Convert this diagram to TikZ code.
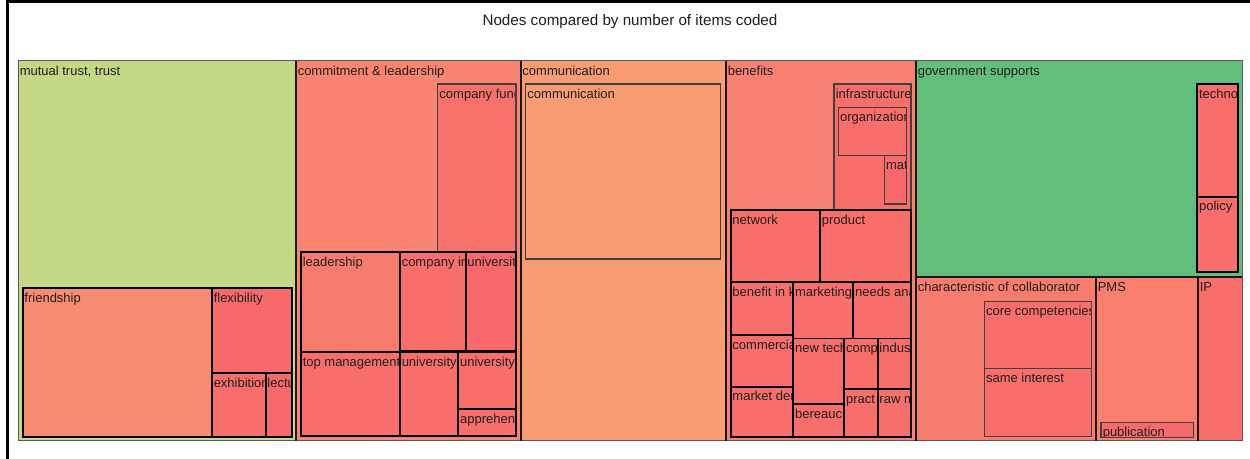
\documentclass[tikz,border=0pt]{standalone}
\usepackage{fontspec}
\setmainfont{Liberation Sans}

% fill colours of the treemap cells
\definecolor{trustgreen}{HTML}{C4D984}
\definecolor{govgreen}{HTML}{63BE7B}
\definecolor{commorange}{HTML}{F99B73}
\definecolor{friendsal}{HTML}{F98B73}
\definecolor{commitsal}{HTML}{F98570}
\definecolor{benefsal}{HTML}{F88070}
\definecolor{leadsal}{HTML}{F87C6E}
\definecolor{charsal}{HTML}{F97D6E}
\definecolor{pmssal}{HTML}{F97E6E}
\definecolor{cellred}{HTML}{F86E6B}
\definecolor{cellredb}{HTML}{F8696B}
\definecolor{cellredc}{HTML}{F8726C}

\tikzset{
  cellbase/.style={inner sep=0pt, outer sep=0pt, draw=none},
  topcell/.style={draw=black!65, line width=0.75pt},
  subcell/.style={draw=black, line width=1.35pt},
  thincell/.style={draw=black!75, line width=0.8pt},
  divider/.style={draw=black!90, line width=1.4pt},
  lbl/.style={font=\fontsize{9.75}{11}\selectfont, text=black!88, inner sep=0pt, anchor=base west},
  titletext/.style={font=\fontsize{11.4}{13}\selectfont, text=black!88, inner sep=0pt},
  frame/.style={line width=2.2pt, draw=black},
}

% first pass: fill and clipped label of a cell
% arguments: style, name, x1, y1, x2, y2 (pixel units, y down), fill, label
\newcommand\tmfillcell[8]{%
  \pgfmathsetmacro\tmw{(#5-#3)*0.75}%
  \pgfmathsetmacro\tmh{(#6-#4)*0.75}%
  \node[cellbase, fill=#7, minimum width=\tmw pt, minimum height=\tmh pt, anchor=north west] (#2) at (#3,#4) {};
  \begin{scope}
    \clip (#2.north west) rectangle (#2.south east);
    \node[lbl] (#2-t) at (#3+1.5,#4+14.3) {#8};
  \end{scope}}
% second pass: outline of the same cell
\newcommand\tmedgecell[8]{%
  \draw[#1] (#2.north west) rectangle (#2.south east);}

\newcommand\treemapcells{%
% mutual trust, trust
\tmcell{topcell}{mt}{18}{61}{296}{441}{trustgreen}{mutual trust, trust}
\tmcell{subcell}{mt1}{22.7}{288}{212}{436.7}{friendsal}{friendship}
\tmcell{subcell}{mt2}{212}{288}{291.7}{373}{cellredb}{flexibility}
\tmcell{subcell}{mt3}{212}{373}{265.7}{436.7}{cellred}{exhibition}
\tmcell{subcell}{mt4}{265.7}{373}{291.7}{436.7}{cellredb}{lectu}
% commitment & leadership
\tmcell{topcell}{cl}{296}{61}{520.7}{441}{commitsal}{commitment \& leadership}
\tmcell{thincell}{cl1}{437.7}{84}{516}{251.7}{cellredc}{company fund}
\tmcell{subcell}{cl2}{301}{252.3}{400}{352.3}{leadsal}{leadership}
\tmcell{subcell}{cl3}{400}{252.3}{465.7}{351}{cellred}{company in}
\tmcell{subcell}{cl4}{465.7}{252.3}{516}{351}{cellredb}{universit}
\tmcell{subcell}{cl5}{301}{352.3}{400}{436}{cellred}{top management}
\tmcell{subcell}{cl6}{400}{352.3}{458.3}{436}{cellred}{university}
\tmcell{subcell}{cl7}{458.3}{352.3}{516}{409.3}{cellred}{university}
\tmcell{subcell}{cl8}{458.3}{409.3}{516}{436}{cellred}{apprehen}
% communication
\tmcell{topcell}{cm}{520.7}{61}{726}{441}{commorange}{communication}
\tmcell{thincell}{cm1}{525.7}{84}{720.7}{259}{commorange}{communication}
% benefits
\tmcell{topcell}{bn}{726}{61}{916}{441}{benefsal}{benefits}
\tmcell{thincell}{bn1}{834}{84}{911}{209.3}{cellred}{infrastructure}
\tmcell{thincell}{bn2}{838.3}{107.3}{906.7}{155.5}{cellred}{organization}
\tmcell{thincell}{bn3}{884.3}{155.5}{906.7}{204}{cellredb}{mat}
\tmcell{subcell}{bn4}{730.7}{210}{820}{282}{cellred}{network}
\tmcell{subcell}{bn5}{820}{210}{910.7}{282}{cellred}{product}
\tmcell{subcell}{bn6}{730.7}{282}{793.3}{335}{cellred}{benefit in k}
\tmcell{subcell}{bn7}{793.3}{282}{853.3}{338.5}{cellred}{marketing}
\tmcell{subcell}{bn8}{853.3}{282}{910.7}{338.5}{cellred}{needs ana}
\tmcell{subcell}{bn9}{730.7}{335}{793.3}{386.7}{cellred}{commercial}
\tmcell{subcell}{bn10}{730.7}{386.7}{793.3}{436.7}{cellred}{market der}
\tmcell{subcell}{bn11}{793.3}{338.5}{844.3}{404.3}{cellred}{new tech}
\tmcell{subcell}{bn12}{793.3}{404.3}{844.3}{436.7}{cellred}{bereauc}
\tmcell{subcell}{bn13}{844.3}{338.5}{877.7}{389}{cellred}{comp}
\tmcell{subcell}{bn14}{877.7}{338.5}{910.7}{389}{cellred}{indus}
\tmcell{subcell}{bn15}{844.3}{389}{877.7}{436.7}{cellred}{pract}
\tmcell{subcell}{bn16}{877.7}{389}{910.7}{436.7}{cellred}{raw m}
% government supports
\tmcell{topcell}{gs}{916}{61}{1242}{277.3}{govgreen}{government supports}
\tmcell{subcell}{gs1}{1197.3}{84}{1238.3}{196.7}{cellred}{techno}
\tmcell{subcell}{gs2}{1197.3}{196.7}{1238.3}{271.7}{cellred}{policy}
% characteristic of collaborator
\tmcell{topcell}{cc}{916}{277.3}{1096}{441}{charsal}{characteristic of collaborator}
\tmcell{thincell}{cc1}{984.3}{301.7}{1091.7}{368.3}{cellred}{core competencies}
\tmcell{thincell}{cc2}{984.3}{368.3}{1091.7}{436.7}{cellred}{same interest}
% PMS
\tmcell{topcell}{pms}{1096}{277.3}{1198}{441}{pmssal}{PMS}
\tmcell{thincell}{pms1}{1101}{422.7}{1193.3}{437.3}{cellredb}{publication}
% IP
\tmcell{topcell}{ip}{1198}{277.3}{1242}{441}{cellred}{IP}
}

\begin{document}
\begin{tikzpicture}[x=0.75pt, y=-0.75pt]
\useasboundingbox (0,0) rectangle (1250,459);

% outer frame
\coordinate (fbl) at (7.5,459);
\coordinate (ftl) at (7.5,1.7);
\coordinate (ftr) at (1250,1.7);
\draw[frame] (fbl) -- (ftl) -- (ftr);

\node[titletext] (title) at (630,22) {Nodes compared by number of items coded};

% fills and labels, then outlines on top
\let\tmcell\tmfillcell
\treemapcells
\let\tmcell\tmedgecell
\treemapcells

% dividers between the top-level cells
\draw[divider] (mt.north east) -- (mt.south east);
\draw[divider] (cl.north east) -- (cl.south east);
\draw[divider] (cm.north east) -- (cm.south east);
\draw[divider] (bn.north east) -- (bn.south east);
\draw[divider] (gs.south west) -- (gs.south east);
\draw[divider] (cc.north east) -- (cc.south east);
\draw[divider] (pms.north east) -- (pms.south east);

\end{tikzpicture}
\end{document}
